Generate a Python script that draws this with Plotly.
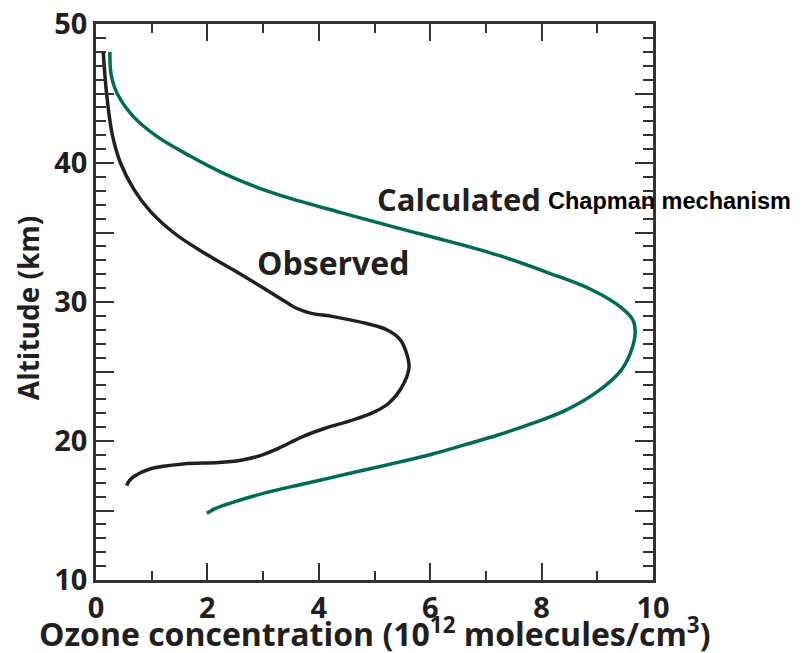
import plotly.graph_objects as go

# Observed ozone profile (x: 10^12 molecules/cm^3, y: altitude km)
obs_x = [0.55, 0.6, 0.68, 0.98, 1.57, 2.2, 2.6, 2.95, 3.29, 3.7, 4.1, 4.56, 4.95, 5.25, 5.48, 5.62, 5.56,
         5.46, 5.22, 4.86, 4.26, 3.85, 3.6, 3.35, 3.07, 2.47, 1.87, 1.39, 0.98, 0.68, 0.44, 0.29, 0.19, 0.13]
obs_y = [16.8, 17.15, 17.45, 18.0, 18.35, 18.45, 18.62, 18.95, 19.5, 20.3, 20.9, 21.45, 22.0, 22.7, 23.8, 25.3, 26.5,
         27.3, 28.0, 28.45, 28.95, 29.2, 29.55, 30.15, 30.85, 32.3, 33.7, 35.0, 36.5, 38.1, 40.0, 42.1, 45.0, 48.0]

# Calculated (Chapman mechanism) profile
calc_x = [1.99, 2.15, 2.47, 3.07, 3.66, 4.26, 4.86, 5.46, 6.03, 6.6, 7.23, 7.82, 8.43, 9.02, 9.43,
          9.61, 9.68, 9.64, 9.43, 8.89, 8.12, 7.23, 6.3, 5.44, 4.38, 3.49, 2.89, 2.29, 1.69, 1.1,
          0.68, 0.38, 0.27, 0.25]
calc_y = [14.8, 15.15, 15.6, 16.3, 16.85, 17.4, 17.95, 18.5, 19.05, 19.7, 20.45, 21.25, 22.2, 23.6, 25.1,
          26.5, 27.8, 28.7, 29.6, 30.9, 32.1, 33.35, 34.4, 35.3, 36.45, 37.45, 38.25, 39.25, 40.5, 41.9,
          43.3, 45.0, 46.4, 48.0]

x_ticks = [0, 2, 4, 6, 8, 10]
y_ticks = [10, 15, 20, 25, 30, 35, 40, 45, 50]
y_ticktext = ["10", "", "20", "", "30", "", "40", "", "50"]

TXT = "#231f20"
AX = "#333333"
GREEN = "#006b58"
FONT = "Open Sans"

fig = go.Figure()
fig.add_trace(go.Scatter(x=obs_x, y=obs_y, mode="lines",
                         line=dict(color="#231f20", width=3.5, shape="spline", smoothing=1.0),
                         showlegend=False, hoverinfo="skip"))
fig.add_trace(go.Scatter(x=calc_x, y=calc_y, mode="lines",
                         line=dict(color=GREEN, width=3.5, shape="spline", smoothing=1.0),
                         showlegend=False, hoverinfo="skip"))

fig.update_layout(
    width=795, height=645,
    margin=dict(l=88, r=150, t=16, b=73),
    paper_bgcolor="white", plot_bgcolor="white",
    font=dict(family=FONT, color=TXT),
    xaxis=dict(range=[0, 10], tickvals=x_ticks, ticks="inside", ticklen=17, tickwidth=2,
               tickcolor=AX, showline=True, linecolor=AX, linewidth=2.5, mirror="ticks",
               showgrid=False, zeroline=False, automargin=False, ticklabeloverflow="allow",
               tickfont=dict(family=FONT, size=29, color=TXT, weight="bold"),
               minor=dict(dtick=1, ticks="inside", ticklen=9, tickwidth=2, tickcolor=AX, showgrid=False)),
    yaxis=dict(range=[10, 50], tickvals=y_ticks, ticktext=y_ticktext, ticks="inside", ticklen=18,
               tickwidth=2, tickcolor=AX, showline=True, linecolor=AX, linewidth=2.5, mirror="ticks",
               showgrid=False, zeroline=False, automargin=False, ticklabeloverflow="allow",
               tickfont=dict(family=FONT, size=29, color=TXT, weight="bold"),
               minor=dict(dtick=1, ticks="inside", ticklen=10, tickwidth=2, tickcolor=AX, showgrid=False)),
    annotations=[
        dict(x=0.5, y=-0.0935, xref="paper", yref="paper",
             text="Ozone concentration (10<sup>12</sup> molecules/cm<sup>3</sup>)", showarrow=False,
             xanchor="center", yanchor="middle",
             font=dict(family=FONT, size=32, color=TXT, weight="bold")),
        dict(x=-0.122, y=0.489, xref="paper", yref="paper", text="Altitude (km)", showarrow=False,
             textangle=-90, xanchor="center", yanchor="middle",
             font=dict(family=FONT, size=28, color=TXT, weight="bold")),
        dict(x=5.01, y=37.4, xref="x", yref="y", text="Calculated", showarrow=False,
             xanchor="left", yanchor="middle",
             font=dict(family=FONT, size=31, color=TXT, weight="bold")),
        dict(x=8.08, y=37.3, xref="x", yref="y", text="Chapman mechanism", showarrow=False,
             xanchor="left", yanchor="middle",
             font=dict(family="Liberation Sans", size=23.5, color="black", weight="bold")),
        dict(x=2.85, y=32.85, xref="x", yref="y", text="Observed", showarrow=False,
             xanchor="left", yanchor="middle",
             font=dict(family=FONT, size=32, color=TXT, weight="bold")),
    ],
)

fig.write_html("out.html")
